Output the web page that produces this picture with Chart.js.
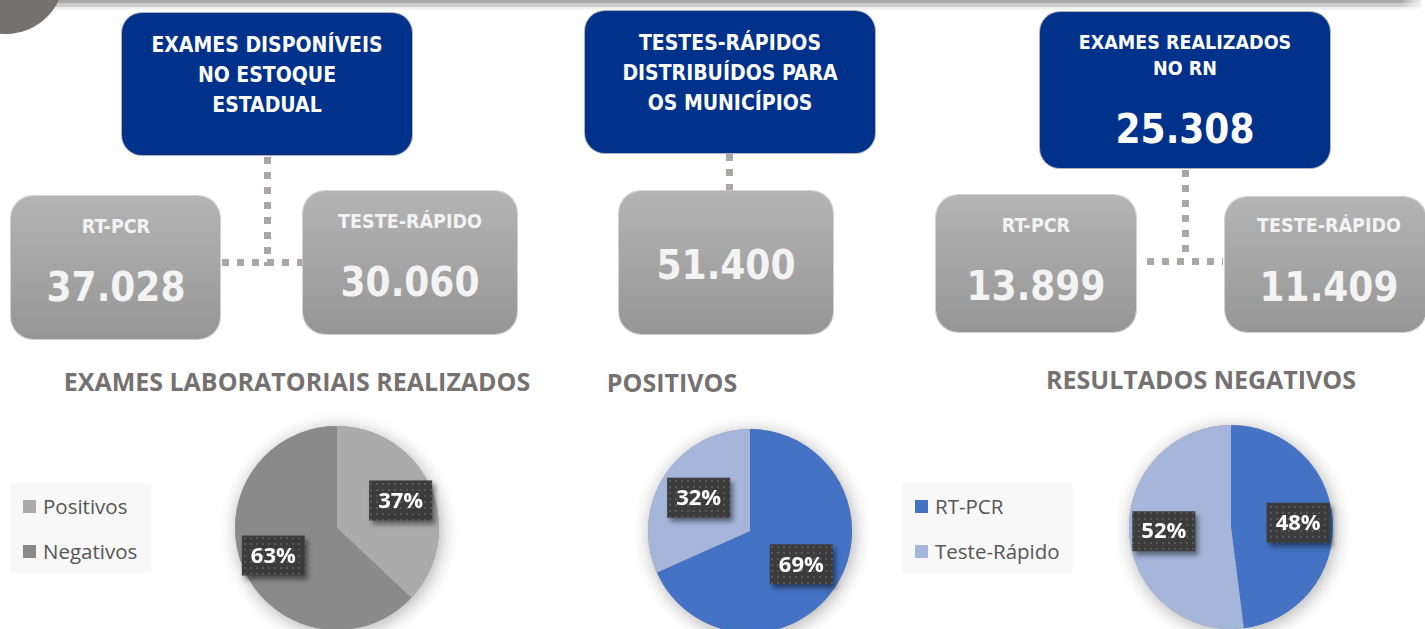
<!DOCTYPE html>
<html lang="pt-BR">
<head>
<meta charset="utf-8">
<title>Exames COVID-19 RN</title>
<script src="https://cdn.jsdelivr.net/npm/chart.js@4.4.1/dist/chart.umd.min.js"></script>
<style>
  html, body { margin: 0; padding: 0; }
  body {
    width: 1425px; height: 629px; overflow: hidden; position: relative;
    background: #fff;
    font-family: "DejaVu Sans Condensed", "DejaVu Sans", sans-serif;
    font-stretch: condensed;
  }
  .abs { position: absolute; }
  .topbar {
    left: 0; top: 0; width: 1422px; height: 10px;
    background: linear-gradient(#a8a8a8 0, #a8a8a8 3px, #c8c8c8 3px, #cccccc 7px, #ededed 7px, #f6f6f6 10px);
  }
  .topfade { left: 1400px; top: 0; width: 25px; height: 10px; background: linear-gradient(to right, rgba(255,255,255,0), #fff); }
  .corner { left: -52px; top: -82px; width: 116px; height: 116px; border-radius: 50%; background: #767171; }
  .blue { background: #00318b; border-radius: 20px; box-shadow: 0 0 0 1px rgba(150,150,160,0.75); }
  .gray { background: linear-gradient(#b4b4b4, #969696); border-radius: 22px; box-shadow: 0 0 0 1px rgba(205,205,205,0.9); }
  .t {
    position: absolute; transform: translate(-50%, -50%); white-space: nowrap;
    line-height: 1; font-weight: bold; color: #fff;
  }
  .g { color: #f3f3f3; }
  .vdots { width: 7px; background: repeating-linear-gradient(to bottom, #aba7a7 0 7px, transparent 7px 15px); }
  .hdots { height: 7px; background: repeating-linear-gradient(to right, #aba7a7 0 7px, transparent 7px 15px); }
  .title { font-family: "Open Sans", sans-serif; font-stretch: normal; color: #767171; font-size: 25px; }
  canvas { position: absolute; }
  .legend { position: absolute; background: #f8f8f8; font-family: "Open Sans", sans-serif; font-stretch: normal; }
  .legend .item { position: absolute; left: 13px; height: 20px; display: flex; align-items: center; font-size: 20.5px; color: #555555; }
  .legend .box { width: 13px; height: 13px; margin-right: 7px; }
</style>
</head>
<body>
  <div class="abs topbar"></div>
  <div class="abs topfade"></div>
  <div class="abs corner"></div>

  <!-- connectors -->
  <div class="abs vdots" style="left:264px; top:157px; height:109px;"></div>
  <div class="abs hdots" style="left:222px; top:259px; width:82px;"></div>
  <div class="abs vdots" style="left:726px; top:154px; height:37px;"></div>
  <div class="abs vdots" style="left:1182px; top:170px; height:82px;"></div>
  <div class="abs hdots" style="left:1147px; top:258px; width:76px;"></div>

  <!-- blue header boxes -->
  <div class="abs blue" style="left:122px; top:13px; width:290px; height:142px;"></div>
  <div class="t" style="left:267px; top:45px; font-size:21px;">EXAMES DISPONÍVEIS</div>
  <div class="t" style="left:267px; top:75px; font-size:21px;">NO ESTOQUE</div>
  <div class="t" style="left:267px; top:105px; font-size:21px;">ESTADUAL</div>

  <div class="abs blue" style="left:585px; top:11px; width:290px; height:142px;"></div>
  <div class="t" style="left:730px; top:43px; font-size:21px;">TESTES-RÁPIDOS</div>
  <div class="t" style="left:730px; top:73px; font-size:21px;">DISTRIBUÍDOS PARA</div>
  <div class="t" style="left:730px; top:103px; font-size:21px;">OS MUNICÍPIOS</div>

  <div class="abs blue" style="left:1040px; top:12px; width:290px; height:156px;"></div>
  <div class="t" style="left:1185px; top:43px; font-size:19.5px;">EXAMES REALIZADOS</div>
  <div class="t" style="left:1185px; top:69px; font-size:19.5px;">NO RN</div>
  <div class="t" style="left:1185px; top:129px; font-size:40px;">25.308</div>

  <!-- gray value boxes -->
  <div class="abs gray" style="left:11px; top:196px; width:209px; height:143px;"></div>
  <div class="t g" style="left:116px; top:227px; font-size:19.5px;">RT-PCR</div>
  <div class="t g" style="left:116px; top:287px; font-size:40px;">37.028</div>

  <div class="abs gray" style="left:303px; top:191px; width:214px; height:143px;"></div>
  <div class="t g" style="left:410px; top:222px; font-size:19.5px;">TESTE-RÁPIDO</div>
  <div class="t g" style="left:410px; top:282px; font-size:40px;">30.060</div>

  <div class="abs gray" style="left:619px; top:191px; width:214px; height:143px;"></div>
  <div class="t g" style="left:726px; top:265px; font-size:40px;">51.400</div>

  <div class="abs gray" style="left:936px; top:195px; width:200px; height:137px;"></div>
  <div class="t g" style="left:1036px; top:226px; font-size:19.5px;">RT-PCR</div>
  <div class="t g" style="left:1036px; top:286px; font-size:40px;">13.899</div>

  <div class="abs gray" style="left:1225px; top:197px; width:201px; height:135px;"></div>
  <div class="t g" style="left:1329px; top:226px; font-size:19.5px;">TESTE-RÁPIDO</div>
  <div class="t g" style="left:1329px; top:287px; font-size:40px;">11.409</div>

  <!-- chart titles -->
  <div class="t title" style="left:297px; top:381px;">EXAMES LABORATORIAIS REALIZADOS</div>
  <div class="t title" style="left:672px; top:382px;">POSITIVOS</div>
  <div class="t title" style="left:1201px; top:379px;">RESULTADOS NEGATIVOS</div>

  <div class="legend" id="legendExames" style="left:10px; top:483px; width:141px; height:90px;"></div>
  <div class="legend" id="legendTipo" style="left:902px; top:483px; width:171px; height:90px;"></div>

  <canvas id="examesChart" width="260" height="260" style="left:207px; top:398px;"></canvas>
  <canvas id="positivosChart" width="260" height="260" style="left:620px; top:401px;"></canvas>
  <canvas id="negativosChart" width="260" height="260" style="left:1101px; top:397px;"></canvas>

<script>
// Pie data (percentages as shown on the slices)
const examesLabels = ["Positivos", "Negativos"];
const examesValues = [37, 63];
const examesColors = ["#ababab", "#8a8a8a"];

const positivosLabels = ["RT-PCR", "Teste-Rápido"];
const positivosValues = [69, 32];

const negativosLabels = ["RT-PCR", "Teste-Rápido"];
const negativosValues = [48, 52];

const tipoColors = ["#4472c4", "#a6b5da"];

// Soft shadow behind the whole pie (drawn once so slices don't shade each other)
const pieShadow = {
  id: "pieShadow",
  beforeDatasetsDraw(chart) {
    const arc = chart.getDatasetMeta(0).data[0];
    if (!arc) return;
    const ctx = chart.ctx;
    ctx.save();
    ctx.shadowColor = "rgba(0,0,0,0.32)";
    ctx.shadowBlur = 18;
    ctx.shadowOffsetX = 2;
    ctx.shadowOffsetY = 3;
    ctx.fillStyle = "#999";
    ctx.beginPath();
    ctx.arc(arc.x, arc.y, arc.outerRadius, 0, Math.PI * 2);
    ctx.fill();
    ctx.restore();
  },
};

let labelPattern = null;
function getLabelPattern(ctx) {
  if (labelPattern) return labelPattern;
  const p = document.createElement("canvas");
  p.width = 6;
  p.height = 6;
  const pc = p.getContext("2d");
  pc.fillStyle = "#3c3c3c";
  pc.fillRect(0, 0, 6, 6);
  pc.fillStyle = "#585858";
  pc.fillRect(1, 1, 2, 2);
  labelPattern = ctx.createPattern(p, "repeat");
  return labelPattern;
}

// Dark callout boxes with the percentage
const pieLabels = {
  id: "pieLabels",
  afterDatasetsDraw(chart, args, opts) {
    const ctx = chart.ctx;
    const values = chart.data.datasets[0].data;
    chart.getDatasetMeta(0).data.forEach((arc, i) => {
      const mid = (arc.startAngle + arc.endAngle) / 2;
      const r = arc.outerRadius * opts.distance;
      const cx = arc.x + Math.cos(mid) * r;
      const cy = arc.y + Math.sin(mid) * r;
      const w = 63, h = 40;
      ctx.save();
      ctx.shadowColor = "rgba(0,0,0,0.45)";
      ctx.shadowBlur = 5;
      ctx.shadowOffsetX = 3;
      ctx.shadowOffsetY = 4;
      ctx.fillStyle = getLabelPattern(ctx);
      ctx.fillRect(cx - w / 2, cy - h / 2, w, h);
      ctx.restore();
      ctx.save();
      ctx.fillStyle = "#ffffff";
      ctx.font = "bold 22px 'Open Sans', sans-serif";
      ctx.textAlign = "center";
      ctx.textBaseline = "middle";
      ctx.fillText(values[i] + "%", cx, cy + 1);
      ctx.restore();
    });
  },
};

function createPie(canvasId, labels, values, colors, labelDistance) {
  const ctx = document.getElementById(canvasId).getContext("2d");
  return new Chart(ctx, {
    type: "pie",
    data: {
      labels: labels,
      datasets: [
        {
          data: values,
          backgroundColor: colors,
          borderWidth: 0,
          radius: 102,
        },
      ],
    },
    options: {
      responsive: false,
      animation: false,
      events: [],
      layout: { padding: 0 },
      plugins: {
        legend: { display: false },
        tooltip: { enabled: false },
        pieLabels: { distance: labelDistance },
      },
    },
    plugins: [pieShadow, pieLabels],
  });
}

function buildLegend(id, labels, colors) {
  const el = document.getElementById(id);
  labels.forEach((label, i) => {
    const item = document.createElement("div");
    item.className = "item";
    item.style.top = 13 + i * 45 + "px";
    const box = document.createElement("span");
    box.className = "box";
    box.style.background = colors[i];
    item.appendChild(box);
    item.appendChild(document.createTextNode(label));
    el.appendChild(item);
  });
}

createPie("examesChart", examesLabels, examesValues, examesColors, 0.68);
createPie("positivosChart", positivosLabels, positivosValues, tipoColors, 0.6);
createPie("negativosChart", negativosLabels, negativosValues, tipoColors, 0.66);

buildLegend("legendExames", examesLabels, examesColors);
buildLegend("legendTipo", positivosLabels, tipoColors);
</script>
</body>
</html>
